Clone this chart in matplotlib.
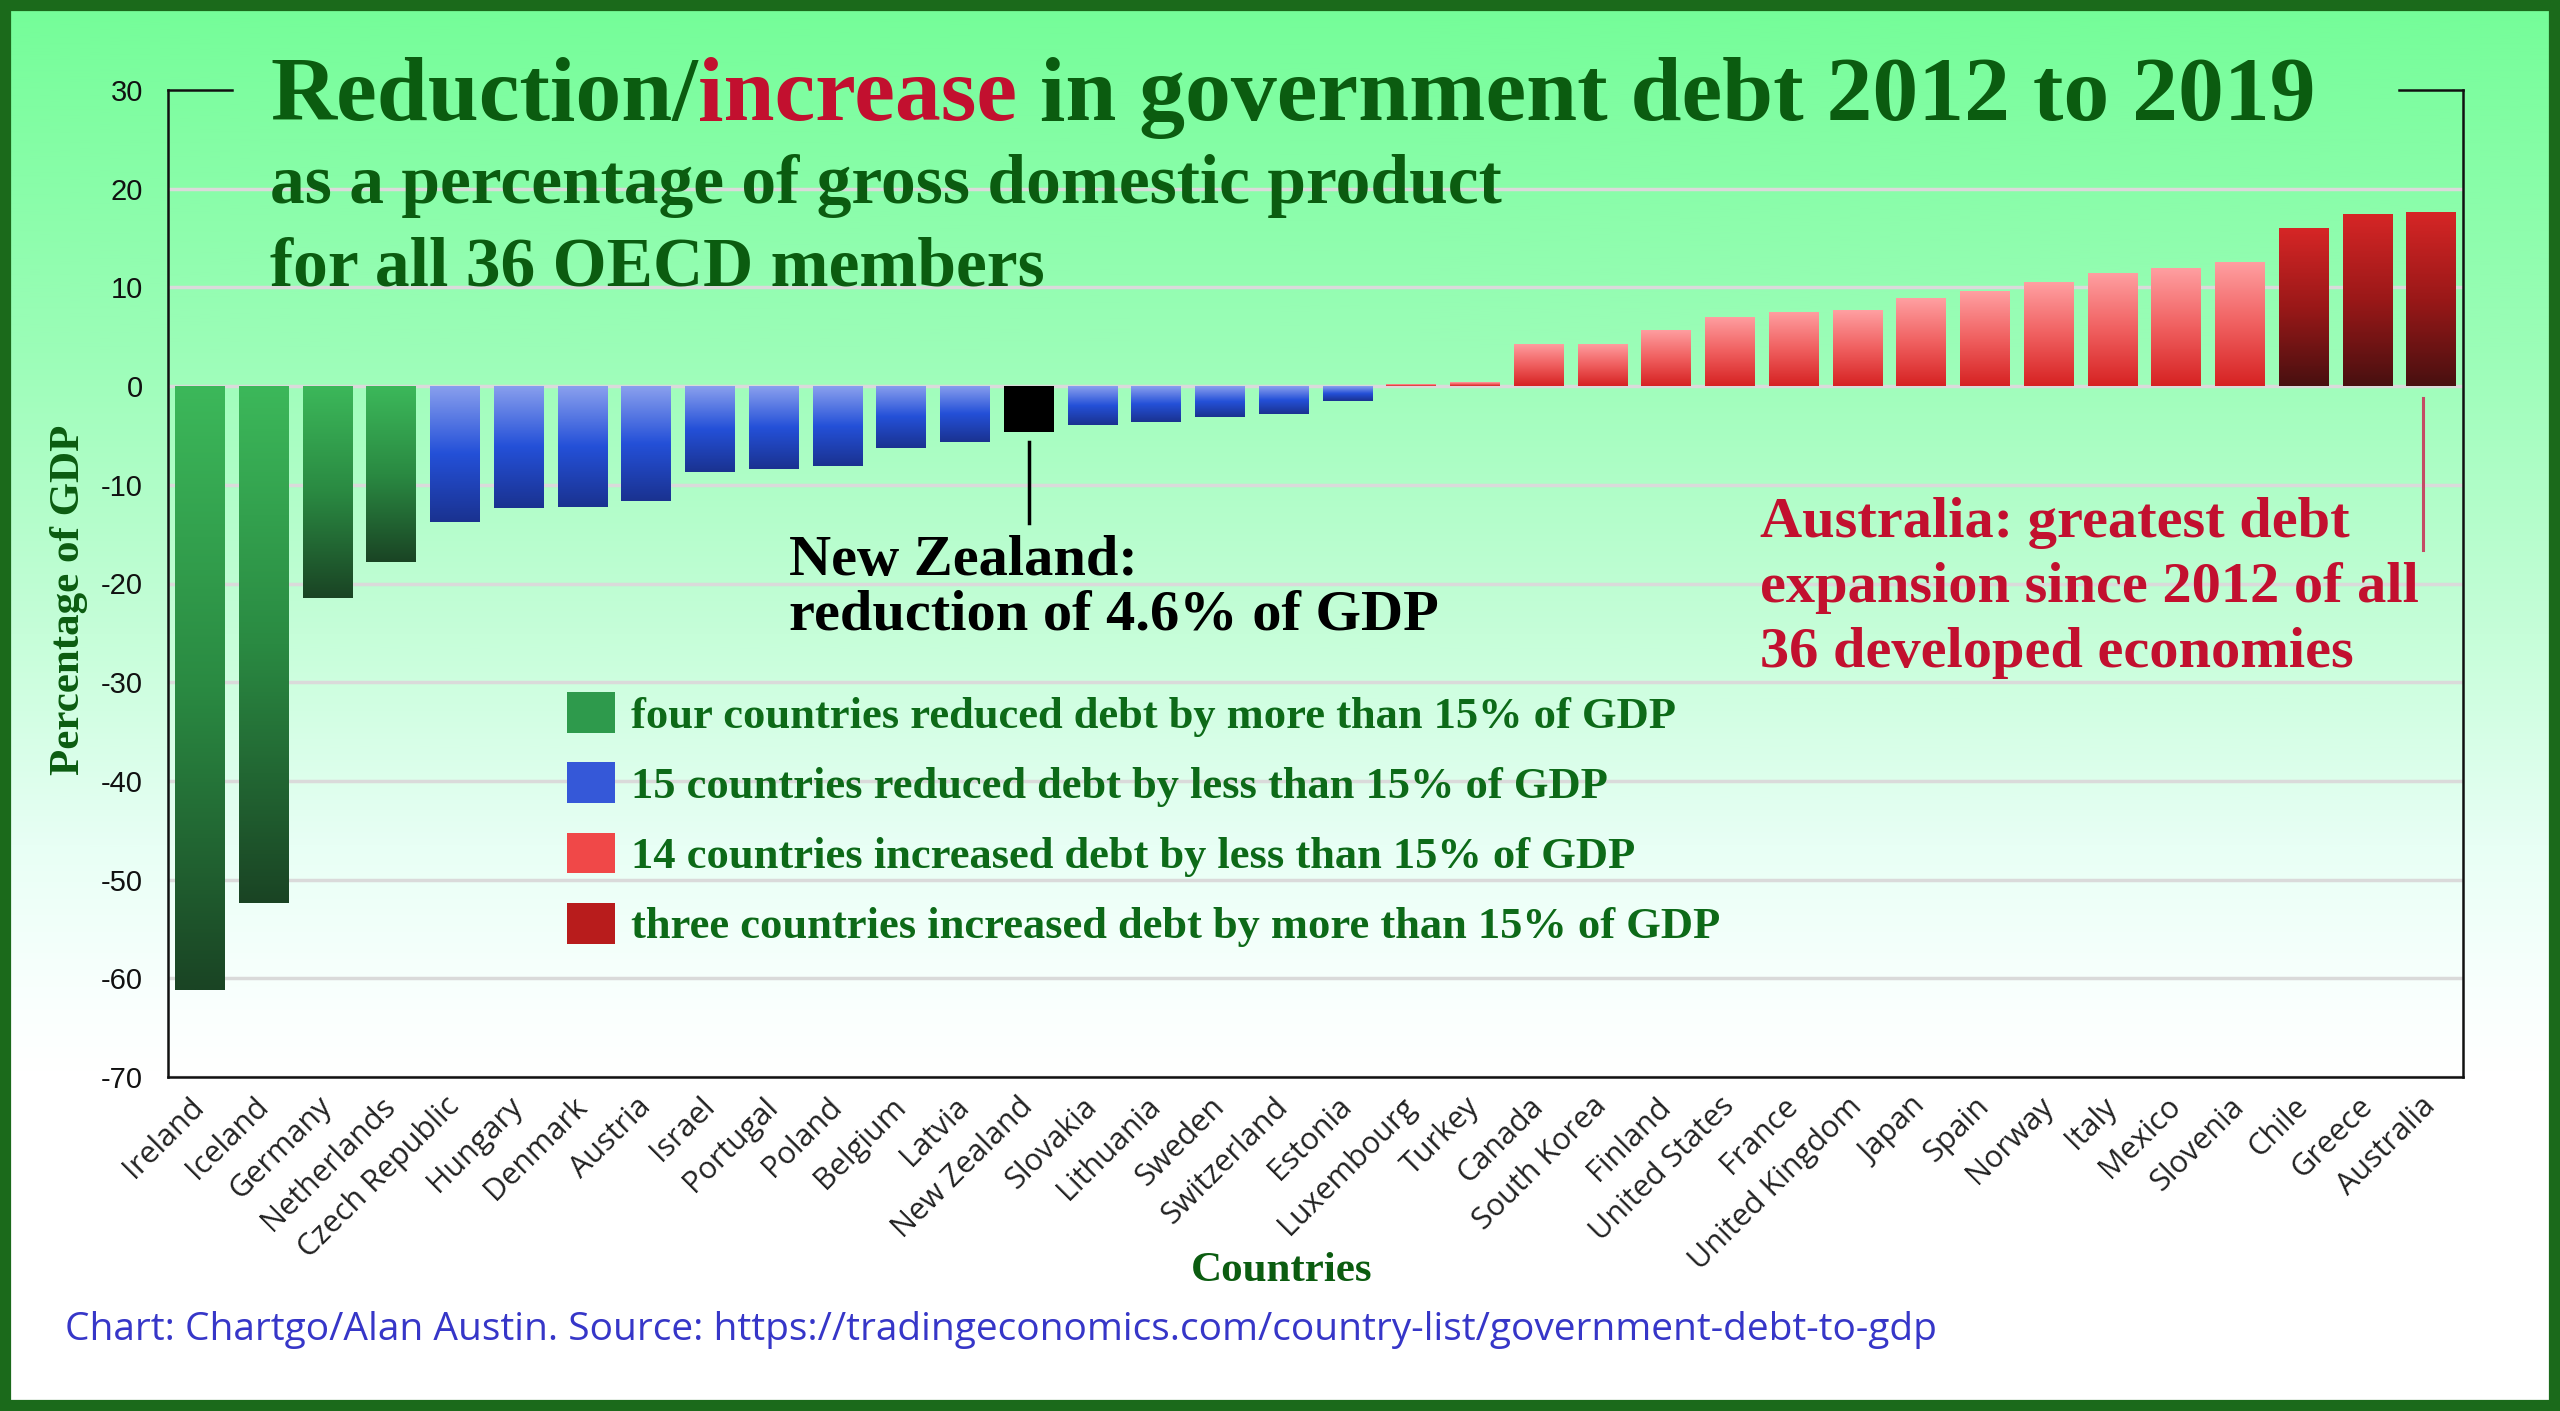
import numpy as np
import matplotlib
matplotlib.use("Agg")
import matplotlib.pyplot as plt
from matplotlib.colors import LinearSegmentedColormap
from matplotlib.patches import Patch, Rectangle

# === DATA ===
countries = ["Ireland", "Iceland", "Germany", "Netherlands", "Czech Republic", "Hungary",
             "Denmark", "Austria", "Israel", "Portugal", "Poland", "Belgium", "Latvia",
             "New Zealand", "Slovakia", "Lithuania", "Sweden", "Switzerland", "Estonia",
             "Luxembourg", "Turkey", "Canada", "South Korea", "Finland", "United States",
             "France", "United Kingdom", "Japan", "Spain", "Norway", "Italy", "Mexico",
             "Slovenia", "Chile", "Greece", "Australia"]
debt_change = [-61.2, -52.4, -21.5, -17.8, -13.8, -12.4, -12.2, -11.6, -8.7, -8.4, -8.1,
               -6.3, -5.7, -4.6, -3.9, -3.6, -3.1, -2.8, -1.5, 0.2, 0.4, 4.3, 4.3, 5.7,
               7.0, 7.5, 7.7, 8.9, 9.6, 10.5, 11.5, 12.0, 12.6, 16.0, 17.4, 17.6]
groups = ["big_cut"] * 4 + ["cut"] * 9 + ["nz"] + ["cut"] * 5 + ["rise"] * 14 + ["big_rise"] * 3
legend_labels = ["four countries reduced debt by more than 15% of GDP",
                 "15 countries reduced debt by less than 15% of GDP",
                 "14 countries increased debt by less than 15% of GDP",
                 "three countries increased debt by more than 15% of GDP"]
yticks = [30, 20, 10, 0, -10, -20, -30, -40, -50, -60, -70]

# === STYLE ===
W, H = 2560, 1411
GREEN_TXT = "#0b5c10"
CRIMSON = "#c2102f"
gradients = {
    "big_cut": ["#3cb85a", "#2a8a42", "#1a4424"],
    "cut": ["#8aa0ee", "#2450d8", "#1a3290"],
    "nz": ["#000000", "#000000"],
    "rise": ["#ffa0a2", "#f06060", "#d62222"],
    "big_rise": ["#d62626", "#9a1818", "#481010"],
}
legend_colors = ["#2e9a4c", "#3558d8", "#f04848", "#b81c1c"]
serif = "Liberation Serif"

fig = plt.figure(figsize=(W / 100, H / 100), dpi=100)

# background gradient
bg = fig.add_axes([0, 0, 1, 1], zorder=-10)
bg_cmap = LinearSegmentedColormap.from_list("bg", [
    (0.0, "#74fd98"), (0.25, "#9cfdb8"), (0.45, "#c6fed9"),
    (0.6, "#e8fff5"), (0.7, "#f8fffd"), (0.76, "#ffffff"), (1.0, "#ffffff")])
bg.imshow(np.linspace(0, 1, 512).reshape(-1, 1), cmap=bg_cmap, aspect="auto",
          extent=[0, 1, 0, 1])
bg.set_axis_off()

ax = fig.add_axes([168 / W, 1 - 1077 / H, (2463 - 168) / W, (1077 - 90) / H])
ax.set_facecolor("none")

x = np.arange(len(countries))
bars = ax.bar(x, debt_change, width=0.78, zorder=3)
grad = np.linspace(0, 1, 256).reshape(-1, 1)
for patch, g in zip(bars, groups):
    x0, w = patch.get_x(), patch.get_width()
    y0, h = patch.get_y(), patch.get_height()
    top, bottom = max(y0, y0 + h), min(y0, y0 + h)
    cmap = LinearSegmentedColormap.from_list(g, gradients[g])
    im = ax.imshow(grad, cmap=cmap, aspect="auto", extent=[x0, x0 + w, bottom, top],
                   zorder=3, interpolation="bilinear")
    im.set_clip_path(patch)
    patch.set_facecolor("none")
    patch.set_edgecolor("none")

ax.set_xlim(-0.5, len(countries) - 0.5)
ax.set_ylim(-70, 30)
ax.set_yticks(yticks)
ax.set_yticklabels([str(v) for v in yticks], family="Liberation Sans",
                   fontsize=21, color="#111111")
ax.set_xticks(x)
ax.set_xticklabels(countries, rotation=45, ha="right", va="center", rotation_mode="anchor",
                   family="Open Sans", fontsize=22, color="#222222")
ax.tick_params(axis="y", length=0, pad=18)
ax.tick_params(axis="x", length=0, pad=18)
ax.yaxis.grid(True, color="#dadada", lw=2.5, zorder=0)
ax.set_axisbelow(True)
ax.get_ygridlines()[0].set_visible(False)

for s in ["left", "right", "bottom"]:
    ax.spines[s].set_linewidth(1.8)
    ax.spines[s].set_color("#111111")
ax.spines["top"].set_visible(False)
ax.plot([0, 0.028], [1, 1], transform=ax.transAxes, color="#111111", lw=1.8, clip_on=False)
ax.plot([0.972, 1], [1, 1], transform=ax.transAxes, color="#111111", lw=1.8, clip_on=False)

# legend
handles = [Patch(facecolor=c, edgecolor="none") for c in legend_colors]
leg = ax.legend(handles, legend_labels, loc="upper left", bbox_to_anchor=(0.174, 0.39),
                frameon=False, borderpad=0, borderaxespad=0, handlelength=1.07,
                handleheight=1.03, handletextpad=0.36, labelspacing=0.58,
                prop={"family": serif, "weight": "bold", "size": 32})
for t in leg.get_texts():
    t.set_color("#0d6a18")

# annotations
nz = countries.index("New Zealand")
ax.plot([nz, nz], [-5.7, -13.9], color="black", lw=2.5, zorder=4)
au = countries.index("Australia")
ax.plot([au - 0.13, au - 0.13], [-1.2, -16.6], color="#c44a64", lw=2.2, zorder=4)

fig.text(789 / W, 1 - 575 / H, "New Zealand:", family=serif, weight="bold", fontsize=42,
         color="black", va="baseline")
fig.text(789 / W, 1 - 630 / H, "reduction of 4.6% of GDP", family=serif, weight="bold",
         fontsize=42, color="black", va="baseline")
for i, line in enumerate(["Australia: greatest debt", "expansion since 2012 of all",
                          "36 developed economies"]):
    fig.text(1760 / W, 1 - (537 + 65 * i) / H, line, family=serif, weight="bold",
             fontsize=42, color=CRIMSON, va="baseline")

# title in three colour pieces
fig.canvas.draw()
renderer = fig.canvas.get_renderer()
tx = 270
for piece, col in [("Reduction/", GREEN_TXT), ("increase", CRIMSON),
                   (" in government debt 2012 to 2019", GREEN_TXT)]:
    t = fig.text(tx / W, 1 - 120 / H, piece, family=serif, weight="bold", fontsize=66,
                 color=col, va="baseline")
    tx = t.get_window_extent(renderer).x1
fig.text(270 / W, 1 - 203 / H, "as a percentage of gross domestic product", family=serif,
         weight="bold", fontsize=50, color=GREEN_TXT, va="baseline")
fig.text(270 / W, 1 - 285 / H, "for all 36 OECD members", family=serif, weight="bold",
         fontsize=50, color=GREEN_TXT, va="baseline")

fig.text(1282 / W, 1 - 1281 / H, "Countries", family=serif, weight="bold", fontsize=31,
         color=GREEN_TXT, ha="center", va="baseline")
fig.text(69 / W, 1 - 600 / H, "Percentage of GDP", family=serif, weight="bold", fontsize=31,
         color=GREEN_TXT, ha="center", va="center", rotation=90)
fig.text(65 / W, 1 - 1340 / H,
         "Chart: Chartgo/Alan Austin. Source: https://tradingeconomics.com/country-list/government-debt-to-gdp",
         family="Open Sans", fontsize=28, color="#3636c8", va="baseline")

# frame
fig.patches.append(Rectangle((0, 0), 1, 1, transform=fig.transFigure, fill=False,
                             edgecolor="#1b6a1b", lw=16, zorder=20))

fig.savefig("out.png", dpi=100)
